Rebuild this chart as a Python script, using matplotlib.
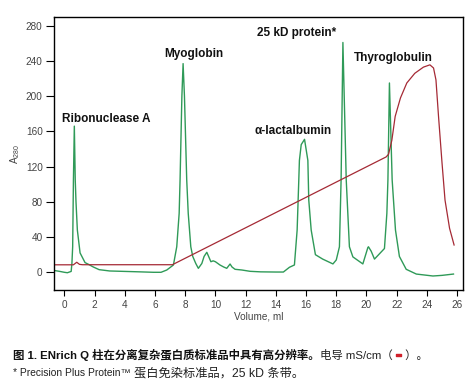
import matplotlib
matplotlib.use('Agg')
import matplotlib.pyplot as plt
import matplotlib.patheffects as pe

plt.rcParams['font.family'] = ['Liberation Sans', 'Noto Sans CJK SC', 'DejaVu Sans']
plt.rcParams['mathtext.default'] = 'regular'

# A280 trace (green)
a280_vol = [-0.65, -0.3, 0.0, 0.2, 0.45, 0.5, 0.55, 0.6, 0.66, 0.72, 0.77, 0.86, 1.04, 1.37,
            1.6, 1.92, 2.3, 3.0, 4.0, 5.0, 5.9, 6.4, 6.78, 7.22, 7.44, 7.6, 7.66, 7.78,
            7.86, 7.95, 8.1, 8.2, 8.37, 8.5, 8.7, 8.87, 9.1, 9.25, 9.43, 9.55, 9.7,
            9.85, 10.0, 10.3, 10.55, 10.75, 10.97, 11.1, 11.3, 11.75, 12.3, 13.0, 14.0,
            14.5, 14.9, 15.23, 15.41, 15.52, 15.56, 15.68, 15.9, 16.12, 16.18, 16.34,
            16.62, 17.1, 17.78, 18.0, 18.21, 18.32, 18.44, 18.66, 18.87, 19.1, 19.76,
            20.09, 20.13, 20.31, 20.53, 21.19, 21.35, 21.42, 21.52, 21.7, 21.92, 22.18,
            22.63, 23.3, 24.4, 25.0, 25.76]
a280_val = [2, 1, 0, -0.5, 1, 10, 29, 105, 166, 105, 80, 48, 22, 11,
            9, 6, 3, 1.5, 1, 0.5, 0, 0, 2.6, 8.3, 29, 67, 105, 200,
            237, 200, 105, 67, 29, 18, 10, 4.5, 10, 18, 22.7, 18, 12,
            13, 12, 8.3, 6, 4.5, 9.4, 6, 3.4, 2.6, 1.1, 0.5, 0.3,
            0.3, 5.7, 8.3, 48, 105, 127, 145, 151, 127, 82, 48,
            20, 15, 9.5, 14, 29, 105, 261, 105, 29, 17.5, 9.5,
            28, 29, 24, 15, 27, 67, 105, 215, 105, 48, 18,
            3.4, -2, -4.2, -3.5, -2]

# conductivity trace (red)
cond_vol = [-0.65, 0.6, 0.82, 1.0, 1.2, 7.15, 21.3, 21.46, 21.68, 21.9, 22.25, 22.67,
            23.2, 23.77, 24.2, 24.44, 24.6, 24.77, 25.0, 25.2, 25.5, 25.8]
cond_val = [8.5, 8.5, 11.4, 9, 8.6, 8.6, 131, 134, 150, 177, 198, 215,
            226, 233, 235.6, 232, 218.5, 177, 124.5, 82, 50, 31]

x_ticks = list(range(0, 27, 2))
y_ticks = [0, 40, 80, 120, 160, 200, 240, 280]

peak_names = ['Ribonuclease A', 'Myoglobin', 'α-lactalbumin', '25 kD protein*', 'Thyroglobulin']
label_pos = [(-0.15, 174), (6.6, 248), (12.56, 161), (12.74, 272), (19.14, 243)]

fig = plt.figure(figsize=(4.76, 3.85), dpi=100)
ax = fig.add_axes([0.113, 0.247, 0.86, 0.709])

ax.plot(a280_vol, a280_val, color='#2f9a58', lw=1.0)
ax.plot(cond_vol, cond_val, color='#a52a35', lw=0.9)

for name, (lx, ly) in zip(peak_names, label_pos):
    ax.text(lx, ly, name, fontsize=8.5, fontweight='bold', va='center', ha='left', color='#111')

ax.set_xlim(-0.7, 26.4)
ax.set_ylim(-20, 290)
ax.set_xticks(x_ticks)
ax.set_yticks(y_ticks)
ax.tick_params(axis='x', direction='out', length=4, width=0.8, labelsize=7.2, labelcolor='#444', pad=3)
ax.tick_params(axis='y', direction='out', length=6, width=0.8, labelsize=7.2, labelcolor='#444', pad=2)
for s in ax.spines.values():
    s.set_linewidth(1.0)
ax.set_xlabel('Volume, ml', fontsize=7.2, color='#444', labelpad=1)
ax.set_ylabel('A$_{280}$', fontsize=7.2, color='#444', labelpad=3)

# caption
fig.canvas.draw()
r = fig.canvas.get_renderer()
x0, y1, y2 = 13 / 476, 1 - 355 / 385, 1 - 373 / 385


def put_parts(parts, y):
    xx = x0
    for txt, size, w, c in parts:
        t = fig.text(xx, y, txt, fontsize=size, fontweight=w, color=c, va='center', ha='left')
        if c == '#d0202a':
            t.set_path_effects([pe.withStroke(linewidth=1.0, foreground=c)])
        xx += t.get_window_extent(r).width / fig.bbox.width


put_parts([('图 1. ENrich Q 柱在分离复杂蛋白质标准品中具有高分辨率。', 8.2, 'bold', '#111'),
           ('电导 mS/cm（ ', 8.2, 'normal', '#222'),
           ('–', 8.2, 'bold', '#d0202a'),
           (' ）。', 8.2, 'normal', '#222')], y1)
put_parts([('* Precision Plus Protein™ ', 7.4, 'normal', '#222'),
           ('蛋白免染标准品，25 kD 条带。', 8.8, 'normal', '#222')], y2)

fig.savefig('out.png', dpi=100)
